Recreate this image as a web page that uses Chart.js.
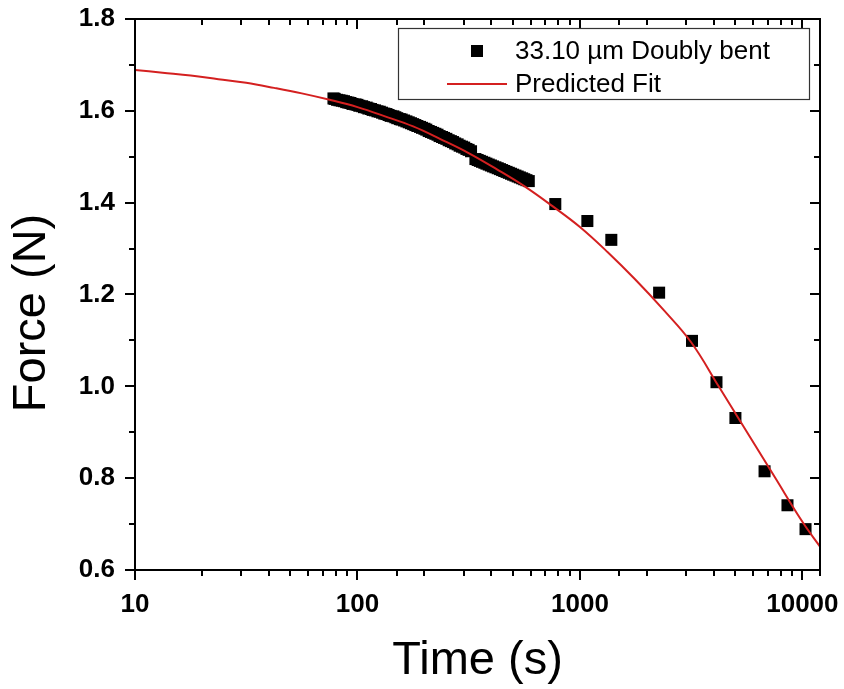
<!DOCTYPE html>
<html>
<head>
<meta charset="utf-8">
<script src="https://cdn.jsdelivr.net/npm/chart.js@4.4.1/dist/chart.umd.min.js"></script>
<style>
  html, body { margin: 0; padding: 0; background: #fff; }
  #wrap { width: 844px; height: 689px; }
</style>
</head>
<body>
<div id="wrap"><canvas id="chart" width="844" height="689"></canvas></div>
<script>
const measTime = [
  78, 79, 81, 83, 85, 87, 89, 91, 93, 95, 98, 100, 102, 105, 107, 110,
  112, 115, 117, 120, 123, 126, 129, 132, 135, 138, 141, 145, 148, 151, 155, 158,
  162, 166, 170, 174, 178, 182, 186, 191, 195, 200, 204, 209, 214, 219, 224, 229,
  234, 240, 245, 251, 257, 263, 269, 275, 282, 288, 295, 302, 309, 316, 324,
  339, 347, 355, 363, 372, 380, 389, 398, 407, 417, 427, 437, 447, 457, 468, 479,
  490, 501, 513, 525, 537, 550, 562, 575, 589,
  775, 1080, 1384, 2270, 3190, 4110, 5000, 6760, 8570, 10330
];
const measForce = [
  1.627, 1.626, 1.624, 1.623, 1.622, 1.621, 1.619, 1.618, 1.617, 1.615, 1.614, 1.613, 1.611, 1.610, 1.608, 1.607,
  1.605, 1.604, 1.602, 1.601, 1.599, 1.598, 1.596, 1.594, 1.593, 1.591, 1.589, 1.588, 1.586, 1.584, 1.582, 1.581,
  1.579, 1.577, 1.575, 1.573, 1.571, 1.569, 1.567, 1.565, 1.563, 1.561, 1.559, 1.556, 1.554, 1.552, 1.550, 1.548,
  1.545, 1.543, 1.541, 1.539, 1.536, 1.534, 1.532, 1.529, 1.527, 1.524, 1.522, 1.520, 1.517, 1.515, 1.512,
  1.495, 1.493, 1.491, 1.489, 1.487, 1.485, 1.483, 1.481, 1.479, 1.477, 1.475, 1.473, 1.471, 1.469, 1.467, 1.465,
  1.463, 1.461, 1.459, 1.457, 1.455, 1.453, 1.451, 1.449, 1.447,
  1.397, 1.360, 1.319, 1.204, 1.099, 1.009, 0.931, 0.815, 0.741, 0.689
];

// predicted fit curve, sampled off the plot
const fitTime = [10, 13.3, 17.8, 23.7, 31.6, 42.2, 56.2, 75, 100, 133, 178, 237, 316, 422, 562, 750,
  1000, 1334, 1778, 2371, 3162, 4217, 5623, 7499, 10000, 12000];
const fitForce = [1.689, 1.683, 1.677, 1.669, 1.661, 1.650, 1.638, 1.624, 1.608, 1.588, 1.566, 1.538, 1.508, 1.473, 1.436, 1.393,
  1.347, 1.292, 1.232, 1.167, 1.096, 0.999, 0.901, 0.803, 0.705, 0.651];

const xTicks = [10, 100, 1000, 10000];
const yTicks = [0.6, 0.8, 1.0, 1.2, 1.4, 1.6, 1.8];

const measLabel = '33.10 \u00b5m Doubly bent';
const fitLabel = 'Predicted Fit';
const FONT = '"Liberation Sans", Arial, sans-serif';

Chart.defaults.color = '#000';
Chart.defaults.font.family = FONT;

// box, ticks on all four sides, y title and legend
const frame = {
  id: 'frame',
  afterDraw(chart) {
    const { ctx, chartArea: a, scales: { x, y } } = chart;
    ctx.save();
    ctx.strokeStyle = '#000';
    ctx.lineWidth = 2;
    ctx.lineCap = 'butt';
    ctx.beginPath();
    x.ticks.forEach(t => {
      const px = Math.round(x.getPixelForValue(t.value));
      const len = t.label ? 10 : 6;
      ctx.moveTo(px, a.bottom); ctx.lineTo(px, a.bottom + len);
      ctx.moveTo(px, a.top); ctx.lineTo(px, a.top + len);
    });
    y.ticks.forEach(t => {
      const py = Math.round(y.getPixelForValue(t.value));
      const len = t.label ? 10 : 6;
      ctx.moveTo(a.left, py); ctx.lineTo(a.left - len, py);
      ctx.moveTo(a.right, py); ctx.lineTo(a.right - len, py);
    });
    ctx.stroke();
    ctx.strokeRect(a.left, a.top, a.right - a.left, a.bottom - a.top);

    // y axis title
    ctx.fillStyle = '#000';
    ctx.font = '47px ' + FONT;
    ctx.textAlign = 'center';
    ctx.textBaseline = 'middle';
    ctx.translate(32, 313);
    ctx.rotate(-Math.PI / 2);
    ctx.fillText('Force (N)', 0, 0);
    ctx.setTransform(1, 0, 0, 1, 0, 0);

    // legend
    ctx.fillStyle = '#fff';
    ctx.fillRect(398, 28, 412, 72);
    ctx.strokeStyle = '#333';
    ctx.lineWidth = 1.2;
    ctx.strokeRect(398.5, 28.5, 411, 71);
    ctx.fillStyle = '#000';
    ctx.fillRect(471, 45, 12, 12);
    ctx.strokeStyle = '#d42020';
    ctx.lineWidth = 2;
    ctx.beginPath();
    ctx.moveTo(447, 84); ctx.lineTo(507, 84);
    ctx.stroke();
    ctx.fillStyle = '#000';
    ctx.font = '26px ' + FONT;
    ctx.textAlign = 'left';
    ctx.textBaseline = 'middle';
    ctx.fillText(measLabel, 515, 52);
    ctx.fillText(fitLabel, 515, 85);
    ctx.restore();
  }
};

new Chart(document.getElementById('chart'), {
  type: 'scatter',
  data: {
    datasets: [
      {
        label: fitLabel,
        data: fitTime.map((t, i) => ({ x: t, y: fitForce[i] })),
        showLine: true,
        borderColor: '#d42020',
        borderWidth: 2,
        pointRadius: 0,
        tension: 0.4,
        order: 0
      },
      {
        label: measLabel,
        data: measTime.map((t, i) => ({ x: t, y: measForce[i] })),
        pointStyle: 'rect',
        pointRadius: 8.5,
        backgroundColor: '#000',
        borderColor: '#000',
        borderWidth: 0,
        order: 1
      }
    ]
  },
  options: {
    responsive: false,
    animation: false,
    layout: { padding: { top: 19, right: 24, left: 0, bottom: 0 } },
    plugins: { legend: { display: false }, tooltip: { enabled: false } },
    scales: {
      x: {
        type: 'logarithmic',
        min: 10,
        max: 12000,
        grid: { display: false, drawTicks: false },
        border: { display: false },
        ticks: {
          autoSkip: false,
          maxRotation: 0,
          padding: 19,
          font: { size: 26, weight: 'bold' },
          callback: v => (xTicks.includes(v) ? String(v) : '')
        },
        title: {
          display: true,
          text: 'Time (s)',
          font: { size: 47 },
          padding: { top: 0, bottom: 0 }
        },
        afterFit: s => { s.height = 119; }
      },
      y: {
        min: 0.6,
        max: 1.8,
        // invisible tick marks only push the labels out; the frame plugin draws the real ticks
        grid: { display: true, drawOnChartArea: false, drawTicks: true, tickLength: 20, color: 'rgba(0,0,0,0)' },
        border: { display: false },
        ticks: {
          stepSize: 0.1,
          autoSkip: false,
          padding: 0,
          font: { size: 26, weight: 'bold' },
          callback: v => {
            const m = yTicks.find(t => Math.abs(t - v) < 1e-6);
            return m === undefined ? '' : m.toFixed(1);
          }
        },
        afterFit: s => { s.width = 135; }
      }
    }
  },
  plugins: [frame]
});
</script>
</body>
</html>
